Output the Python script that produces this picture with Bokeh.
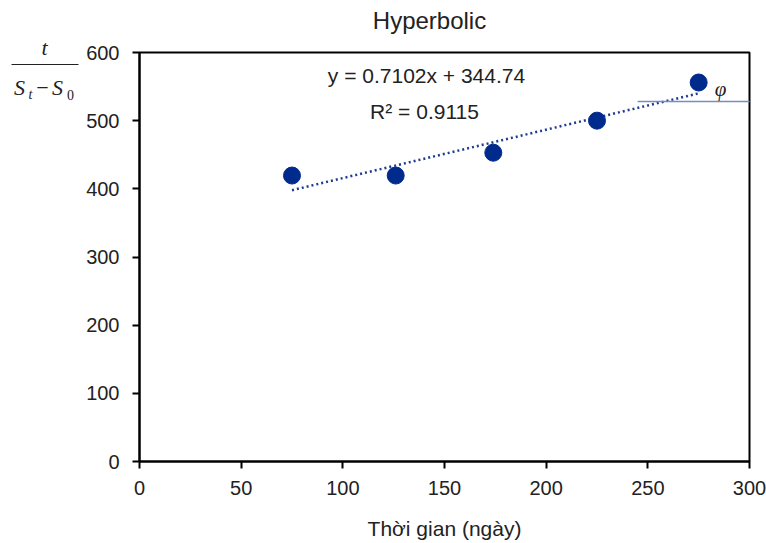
from bokeh.plotting import figure
from bokeh.models import Label, FixedTicker, Range1d, BoxAnnotation
from bokeh.layouts import row, column
from bokeh.embed import file_html
from bokeh.resources import INLINE

# Data
days = [75, 126, 174, 225, 275]
ratio = [419.5, 419.5, 453, 500, 556]
slope = 0.7102
intercept = 344.74
r2 = 0.9115
x_ticks = [0, 50, 100, 150, 200, 250, 300]
y_ticks = [0, 100, 200, 300, 400, 500, 600]
phi_x = [245, 301]
phi_y = [528, 528]

H = 543
LW = 82            # width of the side panel holding the fraction label
TH = 40            # height of the strip holding the title
W = 766 - LW
L, R, T, B = 139 - LW, 17, 52 - TH, 82
FONT = "Liberation Sans"
TXT = "#222222"


def blank(w, h, xr, yr):
    f = figure(width=w, height=h, output_backend="svg", toolbar_location=None,
               x_range=Range1d(*xr), y_range=Range1d(*yr),
               min_border=0, x_axis_type=None, y_axis_type=None)
    f.frame_align = False
    f.grid.visible = False
    f.outline_line_color = None
    f.background_fill_color = "white"
    f.border_fill_color = "white"
    return f


p = figure(width=W, height=H - TH, output_backend="svg", toolbar_location=None,
           x_range=Range1d(0, 300), y_range=Range1d(0, 600),
           min_border_left=L, min_border_right=R, min_border_top=T, min_border_bottom=B)
p.frame_align = False

p.grid.visible = False
p.outline_line_color = "black"
p.outline_line_width = 2
p.outline_line_alpha = 1
p.background_fill_color = "white"
p.border_fill_color = "white"

for ax in (p.xaxis[0], p.yaxis[0]):
    ax.axis_line_color = "black"
    ax.axis_line_width = 2
    ax.major_tick_line_color = "black"
    ax.major_tick_line_width = 2
    ax.major_tick_out = 7
    ax.major_tick_in = 0
    ax.minor_tick_line_color = None
    ax.major_label_text_font = FONT
    ax.major_label_text_font_size = "20px"
    ax.major_label_text_color = TXT

p.xaxis.ticker = FixedTicker(ticks=x_ticks)
p.yaxis.ticker = FixedTicker(ticks=y_ticks)
p.xaxis.major_label_standoff = 12
p.yaxis.major_label_standoff = 13
p.xaxis.axis_label = "Thời gian (ngày)"
p.xaxis.axis_label_text_font = FONT
p.xaxis.axis_label_text_font_style = "normal"
p.xaxis.axis_label_text_font_size = "21px"
p.xaxis.axis_label_text_color = TXT
p.xaxis.axis_label_standoff = 19

# trendline from fit coefficients across the data span
tx = [min(days), max(days)]
ty = [slope * v + intercept for v in tx]
p.line(tx, ty, line_color="#1f3a93", line_width=2.5, line_dash="2 3")

p.line(phi_x, phi_y, line_color="#7a8bc4", line_width=1.5)

p.scatter(days, ratio, size=17, fill_color="#002a8c", line_color="#002a8c")

p.add_layout(Label(x=287, y=386, x_units="screen", y_units="screen",
                   text="y = %.4fx + %.2f" % (slope, intercept),
                   text_font=FONT, text_font_size="21px",
                   text_color=TXT, text_align="center", text_baseline="middle"))
p.add_layout(Label(x=285, y=350, x_units="screen", y_units="screen",
                   text="R² = %.4f" % r2,
                   text_font=FONT, text_font_size="21px",
                   text_color=TXT, text_align="center", text_baseline="middle"))
p.add_layout(Label(x=581, y=373, x_units="screen", y_units="screen",
                   text="φ", text_font="Liberation Serif", text_font_style="italic",
                   text_font_size="21px", text_color=TXT,
                   text_align="center", text_baseline="middle"))

# title strip
t = blank(W, TH, (0, W), (TH, 0))
t.add_layout(Label(x=429 - LW, y=20, text="Hyperbolic", text_font=FONT,
                   text_font_size="24px", text_color=TXT,
                   text_align="center", text_baseline="middle"))

# side panel with the y-axis fraction label  t / (S_t - S_0)
q = blank(LW, H, (0, LW), (H, 0))


def lab(x, y, s, size="22px", style="italic"):
    q.add_layout(Label(x=x, y=y, text=s, text_font="Liberation Serif",
                       text_font_style=style, text_font_size=size, text_color=TXT,
                       text_align="center", text_baseline="middle"))


lab(44, 47, "t")
lab(19, 87, "S")
lab(30, 94, "t", size="14px")
lab(42, 87, "−", style="normal")
lab(57, 87, "S")
lab(70, 94, "0", size="14px", style="normal")

q.add_layout(BoxAnnotation(left=11, right=78, top=63.5, bottom=64.5,
                           fill_color=TXT, fill_alpha=1, line_color=None))

layout = row(q, column(t, p, spacing=0), spacing=0)
open("out.html", "w").write(file_html(layout, INLINE))
